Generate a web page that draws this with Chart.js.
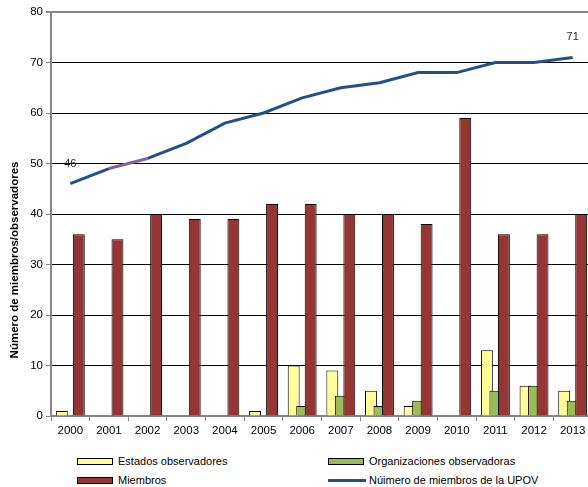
<!DOCTYPE html>
<html>
<head>
<meta charset="utf-8">
<script src="https://cdn.jsdelivr.net/npm/chart.js@4/dist/chart.umd.min.js"></script>
<style>
  html, body { margin: 0; padding: 0; background: #fff; overflow: hidden; width: 588px; height: 487px; }
  #wrap { position: relative; width: 588px; height: 487px; overflow: hidden; }
  #chart { position: absolute; left: 0; top: 0; }
  .leg { position: absolute; font: 11px "Liberation Sans", Arial, sans-serif; color: #000; white-space: nowrap; }
  .leg .sw { display: inline-block; width: 34px; height: 5px; border: 1px solid #000; vertical-align: middle; margin-right: 5px; position: relative; top: -1px; }
  .leg .ln { display: inline-block; width: 38px; height: 3px; vertical-align: middle; margin-right: 3px; position: relative; top: -1px; }
</style>
</head>
<body>
<div id="wrap">
  <canvas id="chart" width="592" height="442"></canvas>
  <div id="legend"></div>
</div>
<script>
// Chart data
const years = ['2000', '2001', '2002', '2003', '2004', '2005', '2006', '2007', '2008', '2009', '2010', '2011', '2012', '2013'];
const estadosObservadores = [1, 0, 0, 0, 0, 1, 10, 9, 5, 2, 0, 13, 6, 5];
const organizacionesObservadoras = [0, 0, 0, 0, 0, 0, 2, 4, 2, 3, 0, 5, 6, 3];
const miembros = [36, 35, 40, 39, 39, 42, 42, 40, 40, 38, 59, 36, 36, 40];
const miembrosUpov = [46, 49, 51, 54, 58, 60, 63, 65, 66, 68, 68, 70, 70, 71];
const yTicks = [0, 10, 20, 30, 40, 50, 60, 70, 80];
const yTitle = 'Número de miembros/observadores';

const FONT = '"Liberation Sans", Arial, sans-serif';
const AXIS_GRAY = '#868686';
const LINE_BLUE = '#245089';

// Draw datasets first-to-last so later bars overlap earlier ones (like Excel)
const forwardDraw = {
  id: 'forwardDraw',
  beforeDatasetsDraw(chart) {
    chart.getSortedVisibleDatasetMetas().forEach(meta => meta.controller.draw());
    return false;
  }
};

// Labels for first and last value of the UPOV line, plus the y axis title
const extraText = {
  id: 'extraText',
  afterDraw(chart) {
    const { ctx, scales } = chart;
    const last = miembrosUpov.length - 1;
    ctx.save();
    ctx.font = '11px ' + FONT;
    ctx.fillStyle = '#222';
    ctx.textAlign = 'center';
    ctx.textBaseline = 'middle';
    [0, last].forEach(i => {
      const x = scales.x.getPixelForValue(i);
      const y = scales.y.getPixelForValue(miembrosUpov[i]);
      ctx.fillText(String(miembrosUpov[i]), x, y - 20);
    });

    // axis title sits a bit below the middle of the plot, as in the original
    ctx.translate(15, 260);
    ctx.rotate(-Math.PI / 2);
    ctx.font = 'bold 11.5px ' + FONT;
    ctx.fillStyle = '#000';
    ctx.fillText(yTitle, 0, 0);
    ctx.restore();
  }
};

const barCommon = {
  borderColor: '#000',
  borderWidth: 1,
  borderSkipped: 'start',
  categoryPercentage: 0.66,
  barPercentage: 1.4
};

const ctx = document.getElementById('chart').getContext('2d');
const chart = new Chart(ctx, {
  data: {
    labels: years,
    datasets: [
      Object.assign({ type: 'bar', label: 'Estados observadores', data: estadosObservadores, backgroundColor: '#FFFF99' }, barCommon),
      Object.assign({ type: 'bar', label: 'Organizaciones observadoras', data: organizacionesObservadoras, backgroundColor: '#9BBB59' }, barCommon),
      Object.assign({ type: 'bar', label: 'Miembros', data: miembros, backgroundColor: '#943634' }, barCommon),
      {
        type: 'line',
        label: 'Núimero de miembros de la UPOV',
        data: miembrosUpov,
        borderColor: LINE_BLUE,
        borderWidth: 3,
        pointRadius: 0,
        tension: 0,
        segment: {
          borderColor: c => (c.p0DataIndex === 1 ? '#8064A2' : LINE_BLUE)
        }
      }
    ]
  },
  options: {
    responsive: false,
    animation: false,
    layout: { padding: { top: 12, right: 0, bottom: 0, left: 0 } },
    plugins: {
      legend: { display: false },
      tooltip: { enabled: false }
    },
    scales: {
      x: {
        offset: true,
        ticks: { color: '#000', font: { family: FONT, size: 11.5 }, padding: 3, maxRotation: 0, autoSkip: false },
        grid: { drawOnChartArea: false, drawTicks: true, tickLength: 5, color: AXIS_GRAY, offset: true },
        border: { color: AXIS_GRAY, width: 2 },
        afterFit: s => { s.height = 26; }
      },
      y: {
        min: 0,
        max: 80,
        afterBuildTicks: s => { s.ticks = yTicks.map(v => ({ value: v })); },
        ticks: { color: '#000', font: { family: FONT, size: 11.5 }, padding: 3 },
        grid: {
          color: c => (c.tick && (c.tick.value === 80 || c.tick.value === 0) ? AXIS_GRAY : '#000'),
          lineWidth: c => (c.tick && c.tick.value === 80 ? 2 : 1),
          tickLength: 5,
          tickColor: AXIS_GRAY
        },
        border: { color: AXIS_GRAY, width: 2 },
        afterFit: s => { s.width = 51; }
      }
    }
  },
  plugins: [forwardDraw, extraText]
});

// HTML legend in two columns, built from the datasets
const legendPos = [
  { left: 77, top: 455 },
  { left: 328, top: 455 },
  { left: 77, top: 474 },
  { left: 328, top: 474 }
];
const legendEl = document.getElementById('legend');
chart.data.datasets.forEach((ds, i) => {
  const item = document.createElement('div');
  item.className = 'leg';
  item.style.left = legendPos[i].left + 'px';
  item.style.top = legendPos[i].top + 'px';
  const sw = ds.type === 'line'
    ? `<span class="ln" style="background:${ds.borderColor}"></span>`
    : `<span class="sw" style="background:${ds.backgroundColor}"></span>`;
  item.innerHTML = sw + ds.label;
  legendEl.appendChild(item);
});
</script>
</body>
</html>
